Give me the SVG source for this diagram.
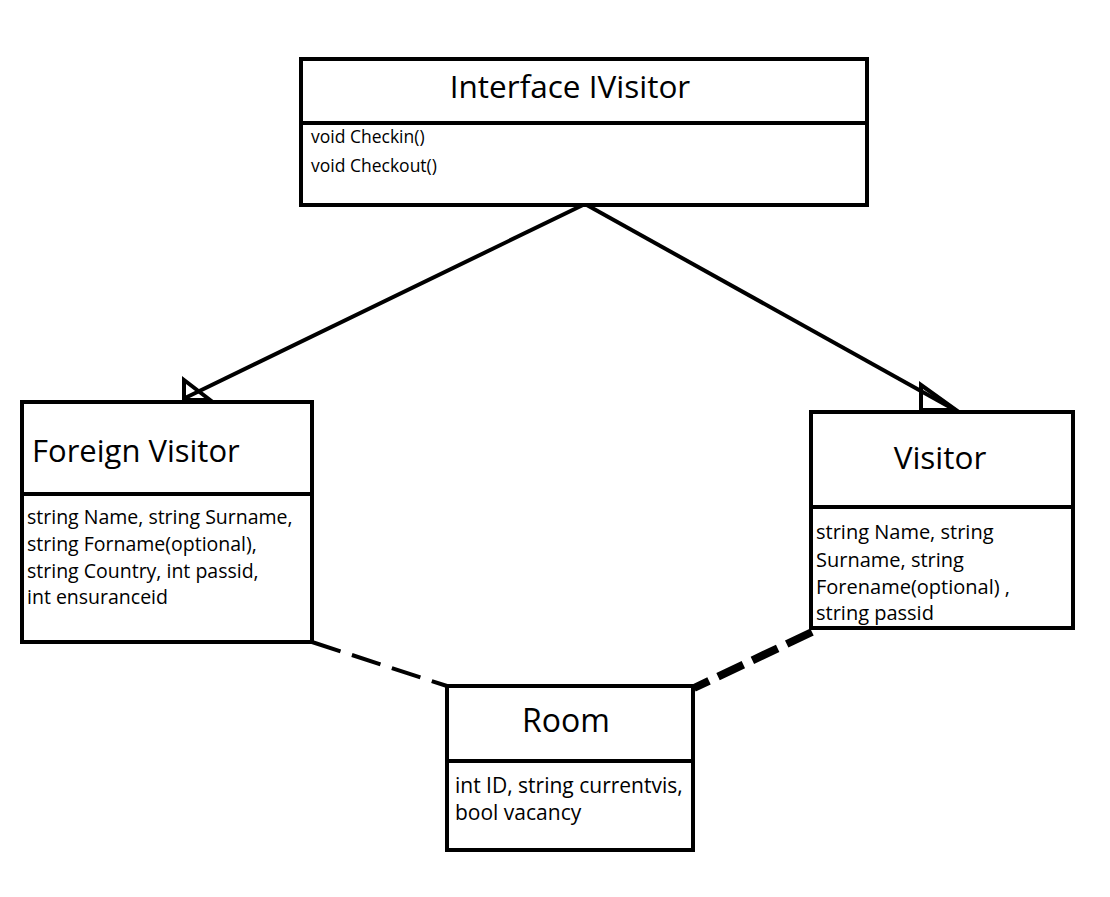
<svg xmlns="http://www.w3.org/2000/svg" width="1110" height="897" viewBox="0 0 1110 897">
<style>
.box{fill:#fff;stroke:#000;stroke-width:4}
.div{stroke:#000;stroke-width:4}
.title{font-family:"Open Sans","Liberation Sans",sans-serif;font-size:31.5px;fill:#000}
.attr{font-family:"Open Sans","Liberation Sans",sans-serif;fill:#000}
.line{stroke:#000;stroke-width:4;fill:none}
.tri{fill:none;stroke:#000;stroke-width:4;stroke-linejoin:miter}
</style>
<rect width="1110" height="897" fill="#fff"/>
<g id="connectors">
<line class="line" x1="585" y1="204" x2="185" y2="398"/>
<line class="line" x1="585" y1="204" x2="955" y2="410"/>
<polygon class="tri" points="184,380 184,400 210,400"/>
<polygon class="tri" points="921,385 921,410 956,410"/>
<line class="line" x1="312" y1="642" x2="447" y2="686" stroke-dasharray="30,12"/>
<line x1="812" y1="632" x2="694" y2="688" stroke="#000" stroke-width="8" stroke-dasharray="28,10"/>
</g>
<g id="interface-ivisitor">
<rect class="box" x="301" y="59" width="566" height="146"/>
<line class="div" x1="301" y1="123" x2="867" y2="123"/>
<text class="title" x="570" y="98" text-anchor="middle">Interface IVisitor</text>
<text class="attr" x="311" y="143" style="font-size:17.5px">void Checkin()</text>
<text class="attr" x="311" y="172" style="font-size:17.5px">void Checkout()</text>
</g>
<g id="foreign-visitor">
<rect class="box" x="22" y="402" width="290" height="240"/>
<line class="div" x1="22" y1="494" x2="312" y2="494"/>
<text class="title" x="32" y="462" style="font-size:31px">Foreign Visitor</text>
<text class="attr" x="27" y="524" style="font-size:19.5px">string Name, string Surname,</text>
<text class="attr" x="27" y="551" style="font-size:19.5px">string Forname(optional),</text>
<text class="attr" x="27" y="578" style="font-size:19.5px">string Country, int  passid,</text>
<text class="attr" x="27" y="604" style="font-size:19.5px">int ensuranceid</text>
</g>
<g id="visitor">
<rect class="box" x="811" y="412" width="262" height="216"/>
<line class="div" x1="811" y1="507" x2="1073" y2="507"/>
<text class="title" x="940" y="469" text-anchor="middle">Visitor</text>
<text class="attr" x="816" y="539" style="font-size:20px">string Name, string</text>
<text class="attr" x="816" y="567" style="font-size:20px">Surname, string</text>
<text class="attr" x="816" y="594" style="font-size:20px">Forename(optional)  ,</text>
<text class="attr" x="816" y="620" style="font-size:20px">string passid</text>
</g>
<g id="room">
<rect class="box" x="447" y="686" width="246" height="164"/>
<line class="div" x1="447" y1="761" x2="693" y2="761"/>
<text class="title" x="566" y="732" text-anchor="middle" style="font-size:32px">Room</text>
<text class="attr" x="455" y="793" style="font-size:21px">int ID, string currentvis,</text>
<text class="attr" x="455" y="820" style="font-size:21px">bool vacancy</text>
</g>
</svg>
